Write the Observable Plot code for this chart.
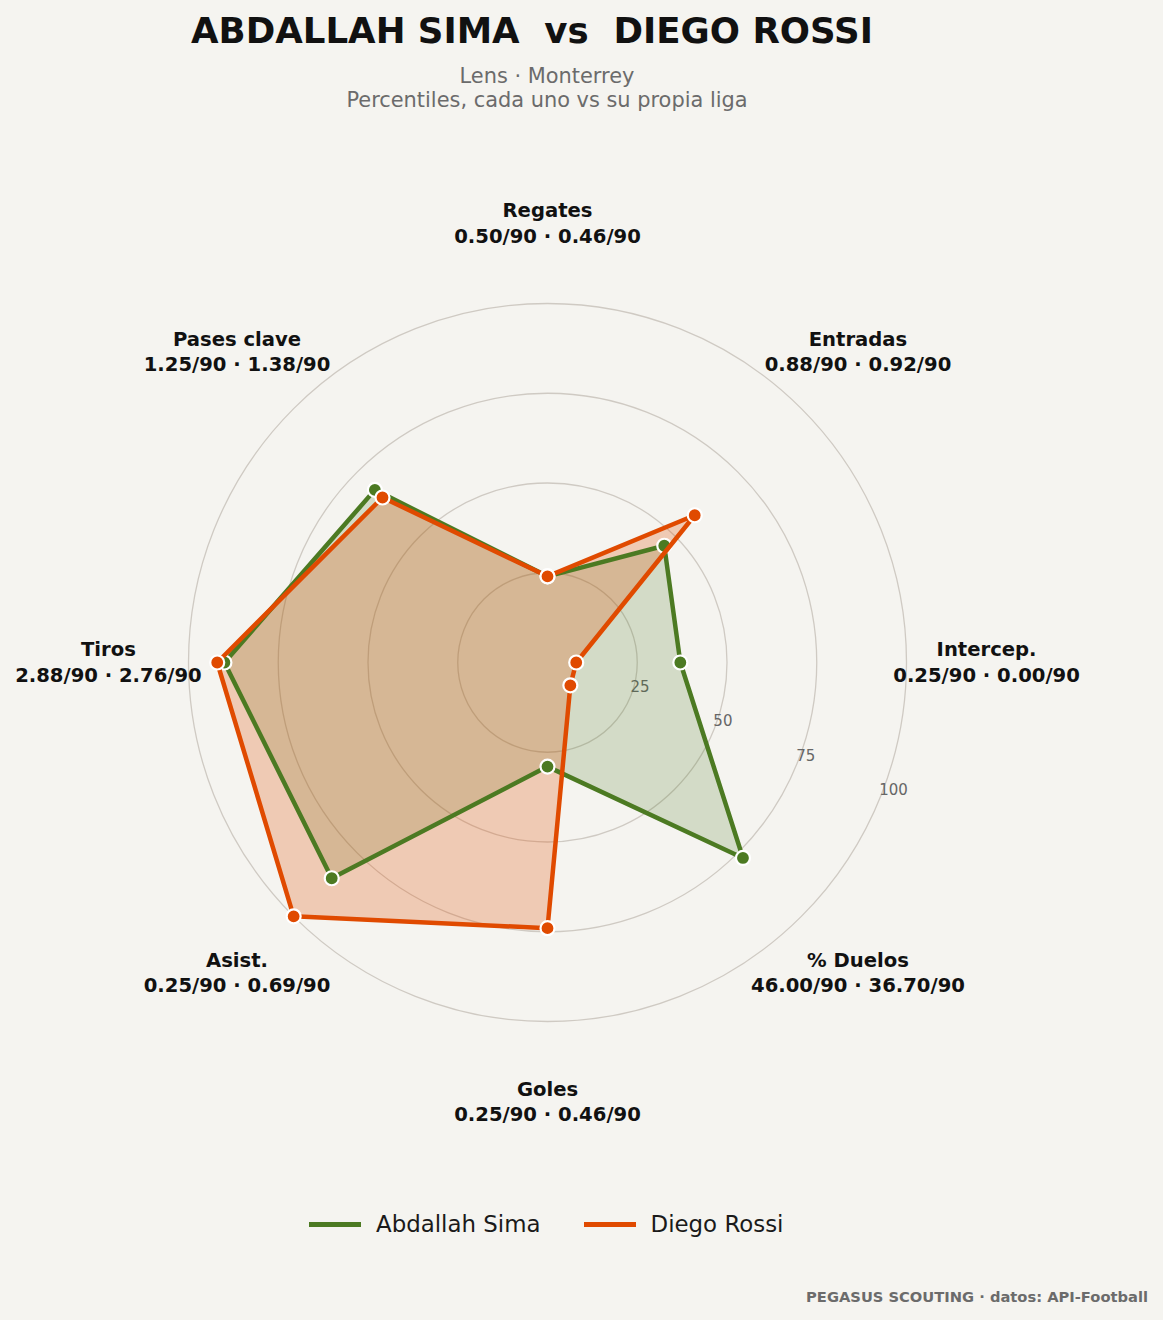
<!DOCTYPE html>
<html><head><meta charset="utf-8">
<script src="https://cdn.jsdelivr.net/npm/d3@7"></script>
<script src="https://cdn.jsdelivr.net/npm/@observablehq/plot@0.6"></script>
<style>
html,body{margin:0;padding:0;background:#f5f4f0;}
#wrap{position:relative;width:1163px;height:1320px;background:#f5f4f0;font-family:"DejaVu Sans",sans-serif;overflow:hidden;}
.title{position:absolute;left:0;width:1064px;top:13px;text-align:center;font-size:35.6px;line-height:35.6px;font-weight:bold;color:#111;white-space:pre;}
.sub{position:absolute;left:0;width:1094px;top:64px;text-align:center;font-size:20.9px;line-height:24px;color:#6b6b6b;}
#chart{position:absolute;left:0;top:130px;}
.legend{position:absolute;left:309px;top:1208px;height:32px;display:flex;align-items:center;font-size:22.9px;color:#1a1a1a;}
.legend .sw{display:inline-block;width:52px;height:5px;margin-right:15px;}
.legend .item{display:flex;align-items:center;margin-right:43px;}
.footer{position:absolute;right:15px;top:1290px;font-size:14.7px;line-height:14.7px;font-weight:bold;color:#6b6b6b;}
</style></head>
<body>
<div id="wrap">
  <div class="title">ABDALLAH SIMA  vs  DIEGO ROSSI</div>
  <div class="sub">Lens · Monterrey<br>Percentiles, cada uno vs su propia liga</div>
  <div id="chart"></div>
  <div class="legend" id="legend"></div>
  <div class="footer">PEGASUS SCOUTING · datos: API-Football</div>
</div>
<script>
const categories = ["Regates", "Entradas", "Intercep.", "% Duelos", "Goles", "Asist.", "Tiros", "Pases clave"];
const players = ["Abdallah Sima", "Diego Rossi"];
const simaPct = [24, 46, 37, 77, 29, 85, 90, 68];
const rossiPct = [24, 58, 8, 9, 74, 100, 92, 65];
const simaRaw = ["0.50", "0.88", "0.25", "46.00", "0.25", "0.25", "2.88", "1.25"];
const rossiRaw = ["0.46", "0.92", "0.00", "36.70", "0.46", "0.69", "2.76", "1.38"];
const ringTicks = [25, 50, 75, 100];
const colors = ["#4c7a22", "#e04a00"];

const W = 1163, H = 1050, cx = 547, cy = 532, R = 359;
const k = R / 100;
const N = categories.length;
const ang = i => i * 2 * Math.PI / N;

function rows(pct, name) {
  return pct.map((v, i) => ({name, cat: categories[i], v, x: v * Math.sin(ang(i)), y: v * Math.cos(ang(i))}));
}
const sima = rows(simaPct, players[0]);
const rossi = rows(rossiPct, players[1]);

const labelR = 122.3;
const labels = categories.map((c, i) => ({
  text: c + "\n" + simaRaw[i] + "/90 · " + rossiRaw[i] + "/90",
  x: labelR * Math.sin(ang(i)), y: labelR * Math.cos(ang(i))
}));
const tickA = 22.5 * Math.PI / 180;
const ticks = ringTicks.map(t => ({t, x: t * Math.cos(tickA), y: -t * Math.sin(tickA)}));

const fillMark = (data, color, fillOpacity) =>
  Plot.line(data, {x: "x", y: "y", curve: "linear-closed", fill: color, fillOpacity, stroke: "none"});
const strokeMarks = (data, color) => [
  Plot.line(data, {x: "x", y: "y", curve: "linear-closed", stroke: color, strokeWidth: 4.5}),
  Plot.dot(data, {x: "x", y: "y", r: 7, fill: color, stroke: "white", strokeWidth: 2.2})
];

const chart = Plot.plot({
  width: W, height: H,
  marginLeft: 0, marginRight: 0, marginTop: 0, marginBottom: 0,
  style: {background: "transparent", fontFamily: "DejaVu Sans, sans-serif"},
  x: {domain: [-cx / k, (W - cx) / k], axis: null},
  y: {domain: [-(H - cy) / k, cy / k], axis: null},
  r: {type: "linear", domain: [0, 100], range: [0, R]},
  marks: [
    Plot.dot(ringTicks, {x: () => 0, y: () => 0, r: d => d, fill: "none", stroke: "#cfcac3", strokeWidth: 1.3}),
    Plot.text(ticks, {x: "x", y: "y", text: d => String(d.t), textAnchor: "start", lineAnchor: "bottom", dy: -5, fontSize: 15, fill: "#666"}),
    fillMark(sima, colors[0], 0.2),
    fillMark(rossi, colors[1], 0.25),
    ...strokeMarks(sima, colors[0]),
    ...strokeMarks(rossi, colors[1]),
    Plot.text(labels, {x: "x", y: "y", text: "text", textAnchor: "middle", lineAnchor: "middle", dy: -1.5, lineHeight: 1.28, fontSize: 19.6, fontWeight: "bold", fill: "#111"})
  ]
});
document.getElementById("chart").appendChild(chart);

const leg = document.getElementById("legend");
players.forEach((p, i) => {
  const item = document.createElement("span");
  item.className = "item";
  const sw = document.createElement("span");
  sw.className = "sw";
  sw.style.background = colors[i];
  item.appendChild(sw);
  item.appendChild(document.createTextNode(p));
  leg.appendChild(item);
});
</script>
</body></html>
